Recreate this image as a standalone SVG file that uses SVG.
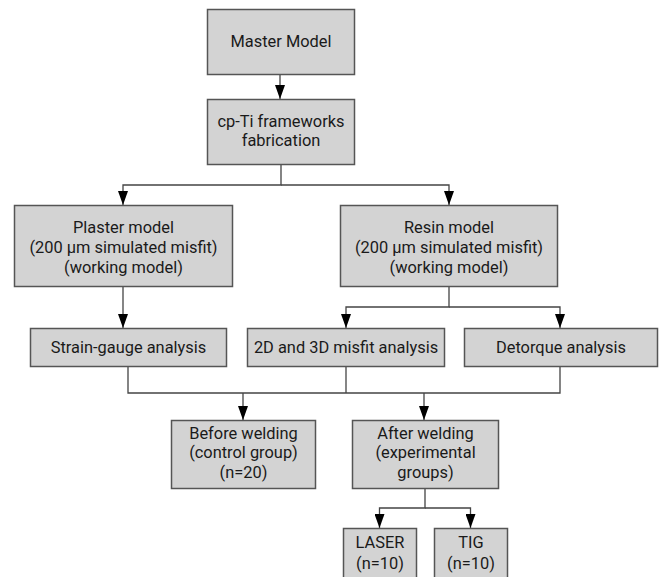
<svg xmlns="http://www.w3.org/2000/svg" width="660" height="577" viewBox="0 0 660 577">
<style>
.box{fill:#d3d3d3;stroke:#555;stroke-width:1.5}
.t{font-family:Roboto,"Liberation Sans",Arial,sans-serif;font-size:16.4px;fill:#1a1a1a;text-anchor:middle}
.c{fill:none;stroke:#444;stroke-width:1.3}
</style>
<defs>
<marker id="ah" viewBox="0 0 14 10" refX="14" refY="5" markerWidth="14" markerHeight="10" markerUnits="userSpaceOnUse" orient="auto">
<path d="M0,0 L14,5 L0,10 z" fill="#000"/>
</marker>
</defs>
<rect width="660" height="577" fill="#fff"/>
<g id="connectors">
<path class="c" d="M280,74 V99" marker-end="url(#ah)"/>
<path class="c" d="M281,164 V185 H123 V205" marker-end="url(#ah)"/>
<path class="c" d="M281,185 H449 V205" marker-end="url(#ah)"/>
<path class="c" d="M123,286 V328" marker-end="url(#ah)"/>
<path class="c" d="M449,286 V307 H346 V328" marker-end="url(#ah)"/>
<path class="c" d="M449,307 H560 V328" marker-end="url(#ah)"/>
<path class="c" d="M128,366 V393 H560 V366"/>
<path class="c" d="M346,366 V393"/>
<path class="c" d="M243,393 V420" marker-end="url(#ah)"/>
<path class="c" d="M424,393 V420" marker-end="url(#ah)"/>
<path class="c" d="M425,488 V508 H379.5 V528" marker-end="url(#ah)"/>
<path class="c" d="M425,508 H470.5 V528" marker-end="url(#ah)"/>
</g>
<g id="master">
<rect class="box" x="207.5" y="9.5" width="147" height="65"/>
<text class="t" x="281" y="47">Master Model</text>
</g>
<g id="cpti">
<rect class="box" x="207.5" y="99.5" width="147" height="65"/>
<text class="t" x="281" y="127">cp-Ti frameworks</text>
<text class="t" x="281" y="146">fabrication</text>
</g>
<g id="plaster">
<rect class="box" x="14.5" y="205.5" width="218" height="81"/>
<text class="t" x="123.5" y="233">Plaster model</text>
<text class="t" x="123.5" y="253">(200 µm simulated misfit)</text>
<text class="t" x="123.5" y="273">(working model)</text>
</g>
<g id="resin">
<rect class="box" x="340.5" y="205.5" width="217" height="81"/>
<text class="t" x="449" y="233">Resin model</text>
<text class="t" x="449" y="253">(200 µm simulated misfit)</text>
<text class="t" x="449" y="273">(working model)</text>
</g>
<g id="strain">
<rect class="box" x="30.5" y="328.5" width="196" height="38"/>
<text class="t" x="128.5" y="353">Strain-gauge analysis</text>
</g>
<g id="misfit">
<rect class="box" x="247.5" y="328.5" width="197" height="38"/>
<text class="t" x="346" y="353">2D and 3D misfit analysis</text>
</g>
<g id="detorque">
<rect class="box" x="464.5" y="328.5" width="193" height="38"/>
<text class="t" x="561" y="353">Detorque analysis</text>
</g>
<g id="before">
<rect class="box" x="171.5" y="420.5" width="144" height="68"/>
<text class="t" x="243.5" y="439">Before welding</text>
<text class="t" x="243.5" y="458">(control group)</text>
<text class="t" x="243.5" y="478">(n=20)</text>
</g>
<g id="after">
<rect class="box" x="352.5" y="420.5" width="146" height="68"/>
<text class="t" x="425.5" y="439">After welding</text>
<text class="t" x="425.5" y="458">(experimental</text>
<text class="t" x="425.5" y="478">groups)</text>
</g>
<g id="laser">
<rect class="box" x="343.5" y="528.5" width="73" height="62"/>
<text class="t" x="380" y="548">LASER</text>
<text class="t" x="380" y="569">(n=10)</text>
</g>
<g id="tig">
<rect class="box" x="434.5" y="528.5" width="73" height="62"/>
<text class="t" x="471" y="548">TIG</text>
<text class="t" x="471" y="569">(n=10)</text>
</g>
</svg>
